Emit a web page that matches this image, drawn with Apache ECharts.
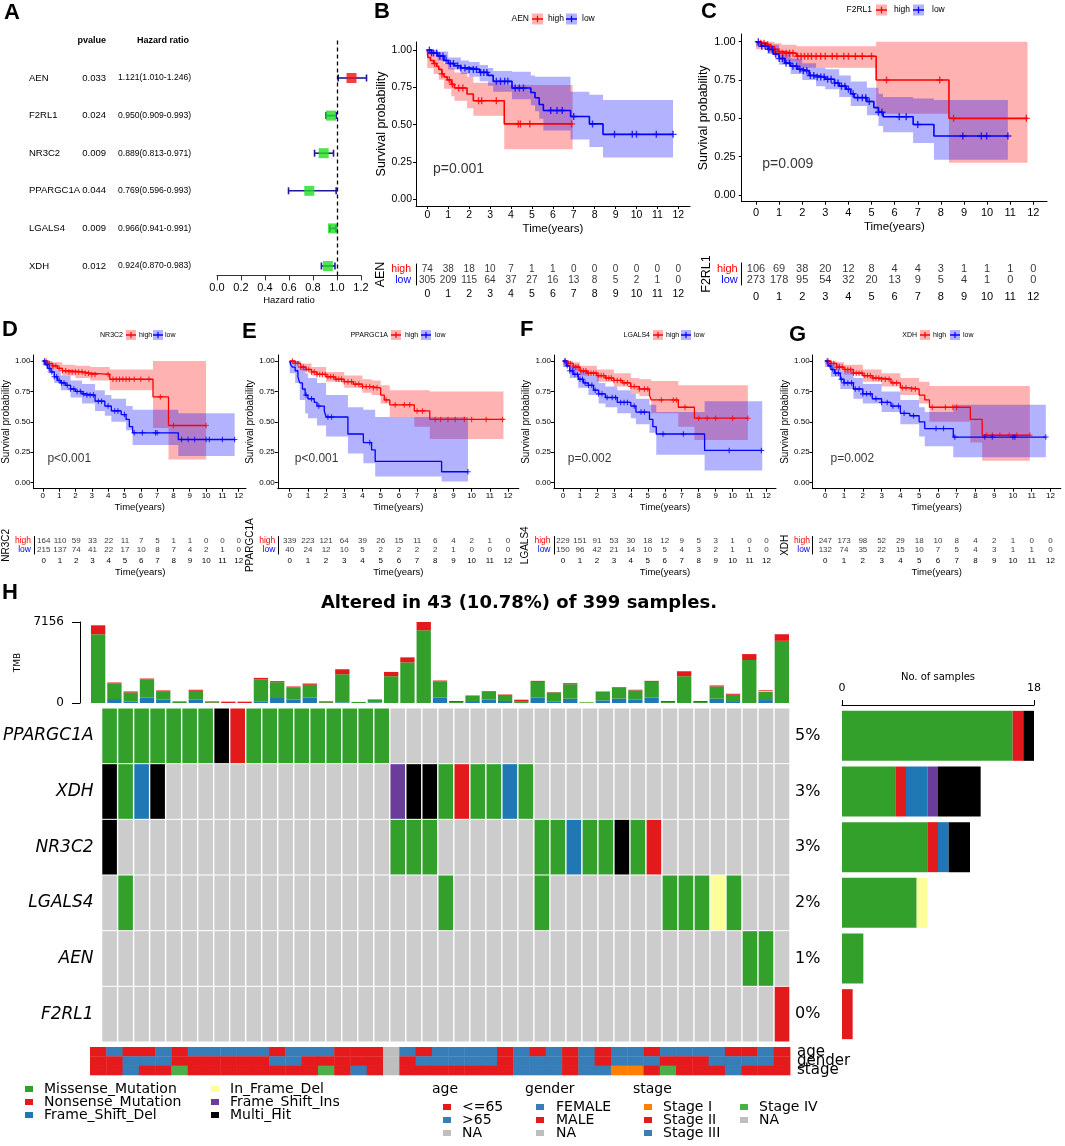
<!DOCTYPE html>
<html>
<head>
<meta charset="utf-8">
<title>Prognostic genes: Cox, KM and oncoplot</title>
<script src="https://cdn.jsdelivr.net/npm/echarts@6.0.0/dist/echarts.min.js"></script>
<style>
html, body { margin: 0; padding: 0; background: #fff; }
#main { width: 1065px; height: 1146px; }
</style>
</head>
<body>
<div id="main"></div>
<script>
// ---------------- A: univariate cox ----------------
var coxGenes = ['AEN', 'F2RL1', 'NR3C2', 'PPARGC1A', 'LGALS4', 'XDH'];
var coxP = ['0.033', '0.024', '0.009', '0.044', '0.009', '0.012'];
var coxHR = [1.121, 0.950, 0.889, 0.769, 0.966, 0.924];
var coxLow = [1.010, 0.909, 0.813, 0.596, 0.941, 0.870];
var coxHigh = [1.246, 0.993, 0.971, 0.993, 0.991, 0.983];

// ---------------- B-G: KM curves ----------------
// curves: [time, survival] from that time on; bands: [time, lower, upper]
var kmTimes = [0, 1, 2, 3, 4, 5, 6, 7, 8, 9, 10, 11, 12];
var kmPvals = ['p=0.001', 'p=0.009', 'p<0.001', 'p<0.001', 'p=0.002', 'p=0.002'];

// AEN
var aenHigh = [[0,1],[0.03,0.95],[0.15,0.93],[0.3,0.91],[0.45,0.89],[0.55,0.87],[0.7,0.84],[0.8,0.82],[0.95,0.8],[1.15,0.77],[1.3,0.745],[1.9,0.705],[2.2,0.66],[3.68,0.505],[6.95,0.505]];
var aenHighCensor = [0.35,0.7,1.05,1.2,1.5,1.7,2.45,2.6,3.3,4.35,4.45,4.9,6.9];
var aenHighBand = [[0,0.88,1],[0.3,0.84,0.97],[0.55,0.8,0.95],[0.8,0.74,0.91],[1.15,0.69,0.88],[1.3,0.66,0.85],[1.9,0.61,0.82],[2.2,0.56,0.78],[3.68,0.335,0.765],[6.95,0.335,0.765]];
var aenLow = [[0,1],[0.2,0.98],[0.5,0.96],[0.8,0.93],[1.0,0.91],[1.3,0.895],[1.6,0.88],[2.0,0.87],[2.5,0.85],[2.9,0.83],[3.15,0.79],[4.05,0.745],[4.95,0.715],[5.15,0.68],[5.35,0.635],[5.55,0.595],[6.85,0.555],[7.75,0.505],[8.4,0.435],[11.75,0.435]];
var aenLowCensor = [0.1,0.2,0.3,0.45,0.6,0.75,0.9,1.1,1.25,1.45,1.6,1.8,2.0,2.2,2.35,2.55,2.7,2.85,3.3,3.5,3.7,3.85,4.2,4.4,4.6,5.9,6.2,6.45,7.0,7.9,8.95,9.8,10.0,10.95,11.75];
var aenLowBand = [[0,0.97,1],[0.5,0.93,0.99],[1.0,0.87,0.95],[1.6,0.84,0.93],[2.0,0.82,0.92],[2.5,0.79,0.9],[2.9,0.76,0.88],[3.15,0.72,0.86],[4.05,0.67,0.855],[4.95,0.63,0.83],[5.15,0.59,0.82],[5.35,0.54,0.82],[5.55,0.46,0.82],[6.85,0.4,0.72],[7.75,0.35,0.7],[8.4,0.28,0.665],[11.75,0.28,0.665]];
var aenRiskHigh = [74,38,18,10,7,1,1,0,0,0,0,0,0];
var aenRiskLow = [305,209,115,64,37,27,16,13,8,5,2,1,0];

// F2RL1
var f2High = [[0,1],[0.15,0.99],[0.4,0.98],[0.6,0.965],[0.8,0.95],[0.95,0.935],[1.1,0.925],[1.75,0.905],[5.2,0.75],[8.35,0.5],[11.75,0.5]];
var f2HighCensor = [0.2,0.35,0.5,0.65,0.8,1.0,1.15,1.3,1.45,1.6,1.8,1.95,2.1,2.25,2.4,2.6,2.8,3.0,3.3,3.5,3.8,4.0,4.3,4.6,5.0,5.65,7.95,8.55,11.7];
var f2HighBand = [[0,0.95,1],[0.5,0.93,1],[0.8,0.9,0.99],[1.1,0.87,0.98],[1.75,0.83,0.97],[5.2,0.53,1],[8.35,0.21,1],[11.75,0.21,1]];
var f2Low = [[0,1],[0.2,0.97],[0.5,0.95],[0.75,0.92],[1.0,0.89],[1.25,0.86],[1.5,0.84],[1.8,0.82],[2.0,0.81],[2.3,0.78],[2.6,0.77],[3.0,0.755],[3.4,0.73],[3.6,0.71],[3.9,0.69],[4.1,0.66],[4.25,0.635],[4.8,0.61],[5.1,0.57],[5.3,0.54],[5.5,0.51],[6.8,0.46],[7.7,0.385],[10.9,0.385]];
var f2LowCensor = [0.1,0.25,0.4,0.55,0.7,0.85,1.0,1.15,1.3,1.45,1.6,1.75,1.9,2.05,2.2,2.35,2.5,2.65,2.8,2.95,3.1,3.25,3.4,3.55,3.7,3.85,4.0,4.2,4.4,4.6,4.75,4.9,5.3,5.45,6.2,6.5,7.0,8.95,9.75,9.98,10.9];
var f2LowBand = [[0,0.97,1],[0.5,0.92,0.98],[1.0,0.85,0.93],[1.5,0.79,0.89],[2.0,0.75,0.86],[2.6,0.71,0.83],[3.0,0.69,0.82],[3.6,0.64,0.78],[4.1,0.58,0.74],[4.8,0.52,0.7],[5.3,0.45,0.66],[5.5,0.41,0.64],[6.8,0.34,0.63],[7.7,0.23,0.62],[10.9,0.23,0.62]];
var f2RiskHigh = [106,69,38,20,12,8,4,4,3,1,1,1,0];
var f2RiskLow = [273,178,95,54,32,20,13,9,5,4,1,0,0];

// NR3C2
var nrHigh = [[0,1],[0.3,0.98],[0.6,0.96],[0.9,0.94],[1.2,0.92],[1.6,0.91],[2.5,0.9],[2.9,0.89],[4.1,0.85],[6.75,0.705],[7.7,0.47],[10,0.47]];
var nrHighCensor = [0.2,0.4,0.6,0.8,1.0,1.2,1.4,1.6,1.8,2.0,2.2,2.4,2.6,2.8,3.0,3.2,4.0,4.3,4.5,4.7,4.9,5.1,5.3,5.6,6.0,6.5,7.2,8.0,10.0];
var nrHighBand = [[0,0.96,1],[0.6,0.93,0.99],[1.2,0.88,0.97],[2.0,0.86,0.96],[2.9,0.84,0.95],[4.1,0.76,0.93],[6.75,0.45,1],[7.7,0.19,1],[10,0.19,1]];
var nrLow = [[0,1],[0.15,0.97],[0.3,0.94],[0.5,0.91],[0.7,0.87],[0.9,0.84],[1.1,0.82],[1.4,0.8],[1.7,0.77],[2.0,0.75],[2.4,0.73],[2.6,0.72],[3.2,0.67],[3.8,0.63],[4.2,0.59],[4.8,0.56],[5.1,0.52],[5.3,0.46],[5.5,0.41],[8.3,0.355],[11.75,0.355]];
var nrLowCensor = [0.1,0.25,0.4,0.55,0.7,0.85,1.0,1.15,1.3,1.5,1.7,1.9,2.1,2.3,2.5,2.7,2.9,3.1,3.4,3.6,4.0,4.4,4.6,5.0,5.6,6.1,6.9,7.0,8.5,8.9,9.3,10.0,10.2,11.0,11.75];
var nrLowBand = [[0,0.97,1],[0.3,0.9,0.98],[0.7,0.82,0.93],[1.1,0.76,0.88],[1.7,0.7,0.84],[2.4,0.65,0.81],[3.2,0.59,0.76],[3.8,0.55,0.72],[4.2,0.5,0.69],[5.1,0.43,0.63],[5.5,0.31,0.6],[8.3,0.22,0.57],[11.75,0.22,0.57]];
var nrRiskHigh = [164,110,59,33,22,11,7,5,1,1,0,0,0];
var nrRiskLow = [215,137,74,41,22,17,10,8,7,4,2,1,0];

// PPARGC1A
var ppHigh = [[0,1],[0.3,0.98],[0.6,0.95],[0.9,0.93],[1.2,0.91],[1.5,0.89],[2.0,0.87],[2.5,0.85],[3.0,0.83],[3.5,0.81],[4.0,0.79],[4.5,0.78],[5.0,0.72],[5.2,0.68],[5.5,0.64],[6.85,0.59],[7.7,0.52],[11.75,0.52]];
var ppHighCensor = [0.15,0.3,0.45,0.6,0.75,0.9,1.05,1.2,1.35,1.5,1.65,1.8,1.95,2.1,2.25,2.4,2.55,2.7,2.85,3.0,3.2,3.4,3.6,3.8,4.0,4.2,4.4,4.6,4.8,5.3,5.8,6.3,6.6,7.0,7.3,8.0,8.3,8.7,9.1,9.6,10.0,10.8,11.7];
var ppHighBand = [[0,0.98,1],[0.6,0.92,0.98],[1.2,0.88,0.95],[2.0,0.83,0.91],[3.0,0.78,0.88],[4.0,0.74,0.85],[4.5,0.72,0.84],[5.0,0.65,0.8],[5.5,0.54,0.76],[6.85,0.46,0.76],[7.7,0.36,0.75],[11.75,0.36,0.75]];
var ppLow = [[0,1],[0.05,0.97],[0.15,0.95],[0.3,0.92],[0.45,0.87],[0.55,0.82],[0.7,0.77],[0.85,0.72],[1.0,0.69],[1.35,0.66],[1.5,0.63],[1.9,0.59],[2.0,0.54],[3.2,0.4],[4.05,0.33],[4.5,0.27],[4.7,0.175],[8.35,0.09],[9.8,0.09]];
var ppLowCensor = [0.9,1.2,1.6,2.1,2.3,4.4,9.8];
var ppLowBand = [[0,0.9,1],[0.3,0.82,1],[0.55,0.68,0.96],[0.85,0.57,0.9],[1.0,0.53,0.86],[1.5,0.47,0.82],[2.0,0.38,0.72],[3.2,0.24,0.62],[4.05,0.16,0.6],[4.7,0.05,0.54],[8.35,0.01,0.54],[9.8,0.01,0.54]];
var ppRiskHigh = [339,223,121,64,39,26,15,11,6,4,2,1,0];
var ppRiskLow = [40,24,12,10,5,2,2,2,2,1,0,0,0];

// LGALS4
var lgHigh = [[0,1],[0.3,0.98],[0.6,0.95],[1.0,0.92],[1.4,0.9],[2.0,0.88],[2.5,0.86],[3.0,0.84],[3.5,0.82],[4.0,0.79],[4.5,0.77],[5.1,0.72],[5.2,0.68],[6.8,0.62],[7.75,0.53],[10.9,0.53]];
var lgHighCensor = [0.15,0.3,0.45,0.6,0.75,0.9,1.05,1.2,1.35,1.5,1.65,1.8,1.95,2.1,2.25,2.4,2.55,2.7,2.85,3.0,3.2,3.4,3.6,3.8,4.0,4.2,4.5,4.8,5.0,5.8,6.5,6.7,7.2,8.0,8.5,9.0,10.0,10.9];
var lgHighBand = [[0,0.97,1],[0.6,0.92,0.99],[1.0,0.88,0.96],[2.0,0.83,0.93],[3.0,0.79,0.9],[4.0,0.73,0.86],[4.5,0.71,0.85],[5.2,0.57,0.835],[6.8,0.46,0.8],[7.75,0.35,0.8],[10.9,0.35,0.8]];
var lgLow = [[0,1],[0.2,0.96],[0.4,0.92],[0.6,0.89],[0.9,0.85],[1.2,0.82],[1.5,0.8],[1.8,0.76],[2.1,0.73],[2.5,0.7],[3.2,0.66],[4.0,0.63],[4.3,0.58],[5.1,0.52],[5.3,0.46],[5.5,0.4],[8.35,0.265],[11.75,0.265]];
var lgLowCensor = [0.1,0.25,0.4,0.55,0.7,0.85,1.0,1.15,1.3,1.5,1.7,1.9,2.1,2.3,2.6,2.9,3.1,3.4,3.6,3.8,4.2,4.6,4.8,5.9,7.1,9.8,11.7];
var lgLowBand = [[0,0.95,1],[0.4,0.86,0.97],[0.9,0.78,0.92],[1.5,0.72,0.88],[2.1,0.65,0.82],[2.5,0.62,0.79],[3.2,0.57,0.76],[4.0,0.53,0.73],[4.3,0.48,0.69],[5.1,0.41,0.64],[5.5,0.23,0.58],[8.35,0.1,0.67],[11.75,0.1,0.67]];
var lgRiskHigh = [229,151,91,53,30,18,12,9,5,3,1,0,0];
var lgRiskLow = [150,96,42,21,14,10,5,4,3,2,1,1,0];

// XDH
var xdHigh = [[0,1],[0.3,0.98],[0.6,0.95],[1.0,0.93],[1.5,0.9],[2.0,0.88],[2.5,0.86],[3.0,0.85],[3.5,0.82],[4.0,0.78],[4.5,0.77],[5.0,0.72],[5.3,0.68],[5.55,0.62],[7.73,0.52],[8.36,0.39],[10.9,0.39]];
var xdHighCensor = [0.15,0.3,0.45,0.6,0.75,0.9,1.05,1.2,1.35,1.5,1.65,1.8,1.95,2.1,2.25,2.4,2.55,2.7,2.85,3.0,3.2,3.4,3.6,3.8,4.1,4.3,4.6,4.8,5.7,6.4,6.8,7.0,8.6,8.9,9.3,9.8,10.2,10.9];
var xdHighBand = [[0,0.97,1],[0.6,0.92,0.99],[1.0,0.89,0.97],[2.0,0.83,0.93],[3.0,0.79,0.9],[4.0,0.72,0.86],[5.0,0.65,0.83],[5.55,0.5,0.795],[7.73,0.33,0.795],[8.36,0.18,0.795],[10.9,0.18,0.795]];
var xdLow = [[0,1],[0.15,0.96],[0.3,0.93],[0.5,0.9],[0.8,0.85],[1.0,0.82],[1.5,0.77],[2.0,0.73],[2.5,0.69],[3.0,0.66],[3.5,0.63],[4.0,0.57],[4.5,0.55],[5.0,0.5],[5.3,0.445],[6.82,0.375],[11.75,0.375]];
var xdLowCensor = [0.1,0.25,0.4,0.55,0.7,0.85,1.0,1.2,1.4,1.6,1.8,2.0,2.2,2.4,2.7,3.0,3.3,3.6,3.9,4.2,4.7,5.9,6.3,6.9,8.5,8.9,10.0,10.1,11.75];
var xdLowBand = [[0,0.95,1],[0.3,0.87,0.98],[0.8,0.77,0.92],[1.5,0.69,0.86],[2.0,0.65,0.81],[3.0,0.58,0.75],[4.0,0.48,0.68],[5.0,0.38,0.62],[5.3,0.3,0.58],[6.82,0.21,0.64],[11.75,0.21,0.64]];
var xdRiskHigh = [247,173,98,52,29,18,10,8,4,2,1,0,0];
var xdRiskLow = [132,74,35,22,15,10,7,5,4,3,1,1,0];

// ---------------- H: oncoplot ----------------
var oncoGenes = ['PPARGC1A', 'XDH', 'NR3C2', 'LGALS4', 'AEN', 'F2RL1'];
var oncoPct = ['5%', '3%', '3%', '2%', '1%', '0%'];
// one char per sample: M missense, N nonsense, D frame-shift del, I frame-shift ins, F in-frame del, X multi hit
var oncoPPARGC1A = ['MMMMMMMXNM', 'MMMMMMMM..', '..........', '..........', '...'].join('');
var oncoXDH      = ['XMDX......', '........IX', 'XMNMMDM...', '..........', '...'].join('');
var oncoNR3C2    = ['X.........', '........MM', 'M......MMD', 'MMXMN.....', '...'].join('');
var oncoLGALS4   = ['.M........', '..........', '.M.....M..', '.....MMMFM', '...'].join('');
var oncoAEN      = ['..........', '..........', '..........', '..........', 'MM.'].join('');
var oncoF2RL1    = ['..........', '..........', '..........', '..........', '..N'].join('');
// clinical tracks: age R <=65, B >65; gender F / M; stage 1-4; N = NA
var annoAge    = ['RBRRBRBBBB', 'BRBBBRRRNB', 'RBBBBRBRBR', 'BRBBRBBBBR', 'RBR'].join('');
var annoGender = ['MMFFFMMMMM', 'MFFMMMMMNM', 'FFFFFMFFFM', 'FMFFFMMMFF', 'FFM'].join('');
var annoStage  = ['2232242222', '22224232N2', '2222223332', '3311242223', '222'].join('');
// TMB per sample, split by variant class
var tmbDel = [0,350,140,470,290,0,320,0,0,0,150,440,320,470,0,60,0,50,0,0,0,466,0,170,290,180,0,467,145,380,0,230,390,290,467,0,0,0,380,168,0,260,0];
var tmbMis = [6075,1370,790,1600,760,90,760,70,0,0,1920,1400,1050,1140,76,2480,100,230,2365,3590,6426,1430,85,470,700,530,170,1400,790,1280,70,760,950,820,1400,85,2364,85,1080,560,3797,760,5491];
var tmbIfd = [0,0,0,0,0,0,0,0,0,0,0,0,0,0,0,0,46,0,0,0,0,0,0,0,0,0,0,0,0,0,76,0,0,0,0,0,0,0,0,0,0,60,0];
var tmbNon = [790,90,90,90,60,50,90,70,120,120,150,90,90,110,70,440,0,40,380,440,730,90,90,30,60,40,120,90,30,90,0,30,60,60,90,90,440,90,90,90,525,60,584];
var tmbMax = 7156;
// samples per gene by class (right bar)
var cntMissense = [16, 5, 8, 7, 2, 0];
var cntNonsense = [1, 1, 1, 0, 0, 1];
var cntFsDel = [0, 2, 1, 0, 0, 0];
var cntFsIns = [0, 1, 0, 0, 0, 0];
var cntIfDel = [0, 0, 0, 1, 0, 0];
var cntMulti = [1, 4, 2, 0, 0, 0];
var cntMax = 18;

var mutNames = ['Missense_Mutation', 'Nonsense_Mutation', 'Frame_Shift_Del', 'In_Frame_Del', 'Frame_Shift_Ins', 'Multi_Hit'];
var mutCodes = ['M', 'N', 'D', 'F', 'I', 'X'];
var mutColors = ['#33A02C', '#E31A1C', '#1F78B4', '#FFFF99', '#6A3D9A', '#000000'];

var FN = "'Liberation Sans',Arial,sans-serif";
var FA = FN;
var FD = "'DejaVu Sans',sans-serif";
var RED = '#FF0000', BLUE = '#0000FF';
var RED_BAND = 'rgba(255,0,0,0.3)', BLUE_BAND = 'rgba(0,0,255,0.3)';
var PLUS = 'path://M4,0H6V4H10V6H6V10H4V6H0V4H4Z';

var chart = echarts.init(document.getElementById('main'));
var grid = [], xAxis = [], yAxis = [], series = [], graphic = [];
function push(arr, o) { arr.push(o); return arr.length - 1; }

function txt(x, y, s, fs, fam, extra) {
  return { type: 'text', x: x, y: y, silent: true,
    style: Object.assign({ text: s, fill: '#000', fontSize: fs, fontFamily: fam, verticalAlign: 'middle' }, extra || {}) };
}

// ---------- A ----------
var fg = push(grid, { left: 217, top: 40.4, width: 144, height: 235 });
var fx = push(xAxis, { gridIndex: fg, type: 'value', min: 0, max: 1.2, interval: 0.2,
  name: 'Hazard ratio', nameLocation: 'middle', nameGap: 20,
  nameTextStyle: { fontFamily: FN, fontSize: 9.5, color: '#000' },
  axisLine: { onZero: false, lineStyle: { color: '#333', width: 1 } },
  axisTick: { length: 5, lineStyle: { color: '#333' } },
  axisLabel: { fontFamily: FN, fontSize: 11, color: '#000', margin: 7, formatter: function (v) { return v.toFixed(1); } },
  splitLine: { show: false } });
var fy = push(yAxis, { gridIndex: fg, type: 'value', min: -1, max: 5.25, inverse: true, show: false });
function rowOf(v) { var i = Math.round(v); return Math.abs(v - i) < 1e-6 ? i : null; }
function tableAxis(offset, align, fs, fmt) {
  return { gridIndex: fg, type: 'value', min: -1, max: 5.25, interval: 1, inverse: true, position: 'left', offset: offset,
    axisLine: { show: false }, axisTick: { show: false }, splitLine: { show: false },
    axisLabel: { margin: 0, align: align, fontFamily: FN, fontSize: fs, color: '#000', formatter: fmt, showMaxLabel: false,
      rich: { b: { fontFamily: FN, fontSize: 9, fontWeight: 'bold', color: '#000' } } } };
}
push(yAxis, tableAxis(188, 'left', 9.5, function (v) { var i = rowOf(v); return (i !== null && i >= 0) ? coxGenes[i] : ''; }));
push(yAxis, tableAxis(111, 'right', 9.5, function (v) {
  var i = rowOf(v); if (i === -1) return '{b|pvalue}'; return (i !== null && i >= 0) ? coxP[i] : ''; }));
push(yAxis, tableAxis(28, 'right', 9, function (v) { return rowOf(v) === -1 ? '{b|Hazard ratio}' : ''; }));
push(yAxis, tableAxis(99, 'left', 8.6, function (v) {
  var i = rowOf(v);
  if (i === null || i < 0 || i >= coxHR.length) return '';
  return coxHR[i].toFixed(3) + '(' + coxLow[i].toFixed(3) + '-' + coxHigh[i].toFixed(3) + ')'; }));
series.push({ type: 'custom', xAxisIndex: fx, yAxisIndex: fy, silent: true, z: 3,
  data: coxGenes.map(function (g, i) { return [i, coxLow[i], coxHigh[i]]; }),
  encode: { x: [1, 2], y: 0 },
  renderItem: function (params, api) {
    var y = api.value(0), a = api.coord([api.value(1), y]), b = api.coord([api.value(2), y]);
    var st = { stroke: '#1A1A9A', lineWidth: 1.6 };
    return { type: 'group', children: [
      { type: 'line', shape: { x1: a[0], y1: a[1], x2: b[0], y2: b[1] }, style: st },
      { type: 'line', shape: { x1: a[0], y1: a[1] - 3.5, x2: a[0], y2: a[1] + 3.5 }, style: st },
      { type: 'line', shape: { x1: b[0], y1: b[1] - 3.5, x2: b[0], y2: b[1] + 3.5 }, style: st }] };
  } });
series.push({ type: 'scatter', xAxisIndex: fx, yAxisIndex: fy, silent: true, z: 4, symbol: 'rect', symbolSize: 10,
  data: coxHR.map(function (h, i) { return [h, i]; }),
  itemStyle: { color: function (p) { return p.value[0] > 1 ? '#EE1111' : '#22DD22'; } },
  markLine: { silent: true, symbol: 'none', label: { show: false }, animation: false,
    lineStyle: { color: '#000', type: [4, 3], width: 1.3 }, data: [{ xAxis: 1 }] } });

// ---------- B-G ----------
function survAt(curve, t) {
  var s = curve[0][1];
  for (var i = 0; i < curve.length; i++) { if (curve[i][0] <= t + 1e-9) s = curve[i][1]; }
  return s;
}
function bandSeries(band, color, xi, yi) {
  return { type: 'custom', xAxisIndex: xi, yAxisIndex: yi, silent: true, z: 1, data: band, encode: { x: 0, y: [1, 2] },
    renderItem: function (params, api) {
      if (params.dataIndex !== 0) return null;
      var up = [], lo = [];
      for (var i = 0; i < band.length; i++) {
        var t0 = band[i][0], t1 = i + 1 < band.length ? band[i + 1][0] : band[i][0];
        up.push(api.coord([t0, band[i][2]]), api.coord([t1, band[i][2]]));
        lo.push(api.coord([t0, band[i][1]]), api.coord([t1, band[i][1]]));
      }
      return { type: 'polygon', shape: { points: up.concat(lo.reverse()) }, style: { fill: color } };
    } };
}
var SURV_TICKS = [0, 0.25, 0.5, 0.75, 1];

var kmBig = { tickFs: 10.5, tickMargin: 4, nameFs: 11.5, yNameFs: 12.5, pFs: 14, riskFs: 10, riskLabFs: 10.5,
  lw: 1.6, cs: 7, legFs: 8.5, legBox: 11, riskTime: false };
var kmSmall = { top: 355, bottom: 488.7, y1: 361, y0: 482.7, riskTop: 536.5, riskBottom: 554, riskTime: true, riskNameY: 571.7,
  tickFs: 8, tickMargin: 3, nameFs: 9.5, xNameY: 506.7, yNameFs: 10, pFs: 12, riskFs: 8, riskLabFs: 8.5,
  lw: 1.3, cs: 5.5, legY: 335, legFs: 7, legBox: 10 };
var kmPanels = [
  { L: Object.assign({}, kmBig, { left: 416, right: 690, top: 42, bottom: 206, t0: 427.3, t12: 678.3, y1: 50, y0: 199.3,
      riskTop: 264, riskBottom: 285, xNameY: 229, yNameX: 387, riskNameX: 386, riskMargin: 5, legY: 19, legX: [529, 532, 548, 566, 582] }),
    gene: 'AEN', high: aenHigh, low: aenLow, hc: aenHighCensor, lc: aenLowCensor, hb: aenHighBand, lb: aenLowBand, rh: aenRiskHigh, rl: aenRiskLow, p: kmPvals[0] },
  { L: Object.assign({}, kmBig, { left: 741.7, right: 1047, top: 34, bottom: 201.7, t0: 756, t12: 1033.3, y1: 41.7, y0: 195,
      riskTop: 263, riskBottom: 285, tickFs: 11, tickMargin: 6, riskFs: 11, riskLabFs: 11, xNameY: 227, yNameX: 709, riskNameX: 710, riskMargin: 4,
      legY: 10, legX: [872, 876, 894, 913, 932] }),
    gene: 'F2RL1', high: f2High, low: f2Low, hc: f2HighCensor, lc: f2LowCensor, hb: f2HighBand, lb: f2LowBand, rh: f2RiskHigh, rl: f2RiskLow, p: kmPvals[1] },
  { L: Object.assign({}, kmSmall, { left: 29.7, right: 246, t0: 39.2, t12: 238.6, yNameX: 7, riskNameX: 7.5, riskMargin: 3.5,
      legX: [123, 126, 139, 153, 165] }),
    gene: 'NR3C2', high: nrHigh, low: nrLow, hc: nrHighCensor, lc: nrLowCensor, hb: nrHighBand, lb: nrLowBand, rh: nrRiskHigh, rl: nrRiskLow, p: kmPvals[2] },
  { L: Object.assign({}, kmSmall, { left: 277.8, right: 518.8, t0: 289.7, t12: 508, yNameX: 254, riskNameX: 254, riskMargin: 2.5,
      legX: [388, 391, 405, 421, 435] }),
    gene: 'PPARGC1A', high: ppHigh, low: ppLow, hc: ppHighCensor, lc: ppLowCensor, hb: ppHighBand, lb: ppLowBand, rh: ppRiskHigh, rl: ppRiskLow, p: kmPvals[3] },
  { L: Object.assign({}, kmSmall, { left: 554, right: 776, t0: 563, t12: 766.5, yNameX: 535, riskNameX: 536, riskMargin: 3.5,
      legX: [650, 653, 666, 681, 694] }),
    gene: 'LGALS4', high: lgHigh, low: lgLow, hc: lgHighCensor, lc: lgLowCensor, hb: lgHighBand, lb: lgLowBand, rh: lgRiskHigh, rl: lgRiskLow, p: kmPvals[4] },
  { L: Object.assign({}, kmSmall, { left: 812.6, right: 1060.8, t0: 825.3, t12: 1050.5, yNameX: 788.5, riskNameX: 788.5, riskMargin: 2.6,
      legX: [917, 920, 933, 950, 963] }),
    gene: 'XDH', high: xdHigh, low: xdLow, hc: xdHighCensor, lc: xdLowCensor, hb: xdHighBand, lb: xdLowBand, rh: xdRiskHigh, rl: xdRiskLow, p: kmPvals[5] }
];

function legendKey(x, y, b, fill, stroke) {
  graphic.push({ type: 'rect', silent: true, shape: { x: x, y: y - b / 2, width: b, height: b }, style: { fill: fill } });
  graphic.push({ type: 'line', silent: true, shape: { x1: x, y1: y, x2: x + b, y2: y }, style: { stroke: stroke, lineWidth: 1.5 } });
  graphic.push({ type: 'line', silent: true, shape: { x1: x + b / 2, y1: y - b * 0.3, x2: x + b / 2, y2: y + b * 0.3 }, style: { stroke: stroke, lineWidth: 1.2 } });
}

function kmPanel(d) {
  var L = d.L;
  var pxYr = (L.t12 - L.t0) / 12, pxS = L.y0 - L.y1;
  var xMin = (L.left - L.t0) / pxYr, xMax = (L.right - L.t0) / pxYr;
  var yMin = (L.y0 - L.bottom) / pxS, yMax = 1 + (L.y1 - L.top) / pxS;
  var lineSt = { onZero: false, lineStyle: { color: '#000', width: 1 } };
  var tickSt = { color: '#000', width: 1 };
  var g = push(grid, { left: L.left, top: L.top, width: L.right - L.left, height: L.bottom - L.top });
  var xi = push(xAxis, { gridIndex: g, type: 'value', min: xMin, max: xMax,
    name: 'Time(years)', nameLocation: 'middle', nameGap: L.xNameY - L.nameFs / 2 - L.bottom,
    nameTextStyle: { fontFamily: FN, fontSize: L.nameFs, color: '#000' },
    axisLine: lineSt, axisTick: { customValues: kmTimes, length: 3, lineStyle: tickSt },
    axisLabel: { customValues: kmTimes, fontFamily: FN, fontSize: L.tickFs, color: '#000', margin: L.tickMargin },
    splitLine: { show: false } });
  var yi = push(yAxis, { gridIndex: g, type: 'value', min: yMin, max: yMax,
    name: 'Survival probability', nameLocation: 'middle', nameRotate: 90, nameGap: L.left - L.yNameX - L.yNameFs / 2,
    nameTextStyle: { fontFamily: FA, fontSize: L.yNameFs, color: '#000' },
    axisLine: lineSt, axisTick: { customValues: SURV_TICKS, length: 3, lineStyle: tickSt },
    axisLabel: { customValues: SURV_TICKS, fontFamily: FN, fontSize: L.tickFs, color: '#000', margin: L.tickMargin,
      formatter: function (v) { return v.toFixed(2); } },
    splitLine: { show: false } });
  series.push(bandSeries(d.hb, RED_BAND, xi, yi), bandSeries(d.lb, BLUE_BAND, xi, yi));
  [[d.high, d.hc, RED], [d.low, d.lc, BLUE]].forEach(function (c) {
    series.push({ type: 'line', xAxisIndex: xi, yAxisIndex: yi, step: 'end', data: c[0], symbol: 'none', silent: true, z: 3,
      lineStyle: { color: c[2], width: L.lw } });
    series.push({ type: 'scatter', xAxisIndex: xi, yAxisIndex: yi, silent: true, z: 4, symbol: PLUS, symbolSize: L.cs,
      itemStyle: { color: c[2] }, data: c[1].map(function (t) { return [t, survAt(c[0], t)]; }) });
  });
  series.push({ type: 'scatter', xAxisIndex: xi, yAxisIndex: yi, silent: true, symbolSize: 1, itemStyle: { color: 'transparent' },
    data: [[0.25, 0.2]],
    label: { show: true, position: 'right', distance: 0, formatter: d.p, fontFamily: FN, fontSize: L.pFs, color: '#000' } });

  // number at risk
  var rg = push(grid, { left: L.left, top: L.riskTop, width: L.right - L.left, height: L.riskBottom - L.riskTop });
  var rx = push(xAxis, { gridIndex: rg, type: 'value', min: xMin, max: xMax,
    name: L.riskTime ? 'Time(years)' : '', nameLocation: 'middle', nameGap: L.riskTime ? L.riskNameY - L.nameFs / 2 - L.riskBottom : 0,
    nameTextStyle: { fontFamily: FN, fontSize: L.nameFs, color: '#000' },
    axisLine: lineSt, axisTick: { customValues: kmTimes, length: 3, lineStyle: tickSt },
    axisLabel: { customValues: kmTimes, fontFamily: FN, fontSize: L.tickFs, color: '#000', margin: L.tickMargin },
    splitLine: { show: false } });
  var ry = push(yAxis, { gridIndex: rg, type: 'category', data: ['low', 'high'],
    name: d.gene, nameLocation: 'middle', nameRotate: 90, nameGap: L.left - L.riskNameX - L.yNameFs / 2,
    nameTextStyle: { fontFamily: FA, fontSize: L.yNameFs, color: '#000' },
    axisLine: { onZero: false, lineStyle: tickSt }, axisTick: { alignWithLabel: true, interval: 0, length: 3, lineStyle: tickSt },
    axisLabel: { interval: 0, fontFamily: FN, fontSize: L.riskLabFs, margin: L.riskMargin,
      color: function (v) { return v === 'high' ? RED : BLUE; } },
    splitLine: { show: false } });
  var rows = kmTimes.map(function (t, i) { return [t, 1, d.rh[i]]; })
    .concat(kmTimes.map(function (t, i) { return [t, 0, d.rl[i]]; }));
  series.push({ type: 'scatter', xAxisIndex: rx, yAxisIndex: ry, silent: true, symbolSize: 1, itemStyle: { color: 'transparent' },
    data: rows,
    label: { show: true, position: 'inside', formatter: function (p) { return p.value[2]; },
      fontFamily: FN, fontSize: L.riskFs, color: '#000' } });

  // legend
  graphic.push(txt(L.legX[0], L.legY, d.gene, L.legFs, FN, { align: 'right' }));
  legendKey(L.legX[1], L.legY, L.legBox, RED_BAND, RED);
  graphic.push(txt(L.legX[2], L.legY, 'high', L.legFs, FN));
  legendKey(L.legX[3], L.legY, L.legBox, BLUE_BAND, BLUE);
  graphic.push(txt(L.legX[4], L.legY, 'low', L.legFs, FN));
}
kmPanels.forEach(kmPanel);

// ---------- H ----------
var oncoRows = [oncoPPARGC1A, oncoXDH, oncoNR3C2, oncoLGALS4, oncoAEN, oncoF2RL1];
var samples = oncoPPARGC1A.split('').map(function (c, i) { return 'S' + (i + 1); });
var annoRows = [annoAge, annoGender, annoStage];
var annoColors = [
  { R: '#E41A1C', B: '#377EB8', N: '#BEBEBE' },
  { F: '#377EB8', M: '#E41A1C', N: '#BEBEBE' },
  { '1': '#FF7F00', '2': '#E41A1C', '3': '#377EB8', '4': '#4DAF4A', N: '#BEBEBE' }
];

var tg = push(grid, { left: 90, top: 622, width: 700, height: 81 });
var tx = push(xAxis, { gridIndex: tg, type: 'category', data: samples, show: false });
var ty = push(yAxis, { gridIndex: tg, type: 'value', min: 0, max: tmbMax, interval: tmbMax, offset: 10,
  name: 'TMB', nameLocation: 'middle', nameRotate: 90, nameGap: 28,
  nameTextStyle: { fontFamily: FD, fontSize: 9, color: '#000' },
  axisLine: { show: true, lineStyle: { color: '#000' } }, axisTick: { show: true, length: 8, lineStyle: { color: '#000' } },
  axisLabel: { fontFamily: FD, fontSize: 12, color: '#000', margin: 16, formatter: function (v) { return String(v); } },
  splitLine: { show: false } });
[[tmbDel, mutColors[2]], [tmbMis, mutColors[0]], [tmbIfd, mutColors[3]], [tmbNon, mutColors[1]]].forEach(function (s) {
  series.push({ type: 'bar', xAxisIndex: tx, yAxisIndex: ty, stack: 'tmb', data: s[0], barCategoryGap: '12%', silent: true,
    itemStyle: { color: s[1] } });
});

var mg = push(grid, { left: 90, top: 708, width: 700, height: 334 });
var mx = push(xAxis, { gridIndex: mg, type: 'category', data: samples, show: false });
var my = push(yAxis, { gridIndex: mg, type: 'category', data: oncoGenes, inverse: true,
  axisLine: { show: false }, axisTick: { show: false },
  axisLabel: { interval: 0, fontFamily: FD, fontStyle: 'italic', fontSize: 17, color: '#000', margin: 8 } });
push(yAxis, { gridIndex: mg, type: 'category', data: oncoGenes, inverse: true, position: 'right',
  axisLine: { show: false }, axisTick: { show: false },
  axisLabel: { interval: 0, fontFamily: FD, fontSize: 16, color: '#000', margin: 5, formatter: function (v, i) { return oncoPct[i]; } } });
var cells = [];
oncoRows.forEach(function (row, j) { for (var i = 0; i < row.length; i++) cells.push([i, j]); });
series.push({ type: 'custom', xAxisIndex: mx, yAxisIndex: my, silent: true, data: cells,
  renderItem: function (params, api) {
    var i = api.value(0), j = api.value(1), c = api.coord([i, j]), s = api.size([1, 1]);
    var k = mutCodes.indexOf(oncoRows[j].charAt(i));
    return { type: 'rect', shape: { x: c[0] - s[0] / 2 + 0.7, y: c[1] - s[1] / 2 + 0.5, width: s[0] - 1.4, height: s[1] - 1 },
      style: { fill: k < 0 ? '#CCCCCC' : mutColors[k] } };
  } });

var ag = push(grid, { left: 90, top: 1047, width: 700, height: 28 });
var ax = push(xAxis, { gridIndex: ag, type: 'category', data: samples, show: false });
var ay = push(yAxis, { gridIndex: ag, type: 'category', data: ['age', 'gender', 'stage'], inverse: true, position: 'right',
  axisLine: { show: false }, axisTick: { show: false },
  axisLabel: { interval: 0, fontFamily: FD, fontSize: 15, color: '#000', margin: 7 } });
var acells = [];
annoRows.forEach(function (row, r) { for (var i = 0; i < row.length; i++) acells.push([i, r]); });
series.push({ type: 'custom', xAxisIndex: ax, yAxisIndex: ay, silent: true, data: acells,
  renderItem: function (params, api) {
    var i = api.value(0), r = api.value(1), c = api.coord([i, r]), s = api.size([1, 1]);
    return { type: 'rect', shape: { x: c[0] - s[0] / 2, y: c[1] - s[1] / 2, width: s[0] + 0.4, height: s[1] + 0.3 },
      style: { fill: annoColors[r][annoRows[r].charAt(i)] } };
  } });

var bg = push(grid, { left: 842, top: 708, width: 192, height: 334 });
var bx = push(xAxis, { gridIndex: bg, type: 'value', min: 0, max: cntMax, interval: cntMax, position: 'top', offset: 3,
  name: 'No. of samples', nameLocation: 'middle', nameGap: 2,
  nameTextStyle: { fontFamily: FD, fontSize: 10, color: '#000' },
  axisLine: { show: true, lineStyle: { color: '#000', width: 1.2 } }, axisTick: { show: true, length: 5, lineStyle: { color: '#000' } },
  axisLabel: { fontFamily: FD, fontSize: 11, color: '#000', margin: 11 }, splitLine: { show: false } });
var by = push(yAxis, { gridIndex: bg, type: 'category', data: oncoGenes, inverse: true, show: false });
[cntMissense, cntNonsense, cntFsDel, cntFsIns, cntIfDel, cntMulti].forEach(function (arr, k) {
  var ci = [0, 1, 2, 4, 3, 5][k];
  series.push({ type: 'bar', xAxisIndex: bx, yAxisIndex: by, stack: 'cnt', data: arr, barWidth: 50, silent: true,
    itemStyle: { color: mutColors[ci] } });
});

// legends
var legRows = [1089, 1102, 1115];
[[0, 0], [1, 1], [2, 2]].forEach(function (p) {
  graphic.push({ type: 'rect', silent: true, shape: { x: 25, y: legRows[p[1]] - 3, width: 8, height: 6 }, style: { fill: mutColors[p[0]] } });
  graphic.push(txt(44, legRows[p[1]], mutNames[p[0]], 14, FD));
});
[[3, 0], [4, 1], [5, 2]].forEach(function (p) {
  graphic.push({ type: 'rect', silent: true, shape: { x: 211, y: legRows[p[1]] - 3, width: 8, height: 6 }, style: { fill: mutColors[p[0]] } });
  graphic.push(txt(230, legRows[p[1]], mutNames[p[0]], 14, FD));
});
var annoLeg = [
  { title: 'age', tx: 432, items: [['<=65', '#E41A1C'], ['>65', '#377EB8'], ['NA', '#BEBEBE']], sx: 443, lx: 462 },
  { title: 'gender', tx: 525, items: [['FEMALE', '#377EB8'], ['MALE', '#E41A1C'], ['NA', '#BEBEBE']], sx: 536, lx: 556 },
  { title: 'stage', tx: 633, items: [['Stage I', '#FF7F00'], ['Stage II', '#E41A1C'], ['Stage III', '#377EB8']], sx: 644, lx: 663 },
  { title: '', tx: 0, items: [['Stage IV', '#4DAF4A'], ['NA', '#BEBEBE']], sx: 740, lx: 759 }
];
var annoLegRows = [1107, 1120, 1133];
annoLeg.forEach(function (g) {
  if (g.title) graphic.push(txt(g.tx, 1089, g.title, 14, FD));
  g.items.forEach(function (it, r) {
    graphic.push({ type: 'rect', silent: true, shape: { x: g.sx, y: annoLegRows[r] - 3, width: 8, height: 6 }, style: { fill: it[1] } });
    graphic.push(txt(g.lx, annoLegRows[r], it[0], 14, FD));
  });
});

graphic.push(txt(519, 603, 'Altered in 43 (10.78%) of 399 samples.', 18, FD, { align: 'center', fontWeight: 'bold' }));
[['A', 4, 13], ['B', 374, 12], ['C', 701, 12], ['D', 2, 330], ['E', 242, 332], ['F', 520, 330], ['G', 789, 335], ['H', 2, 593]]
  .forEach(function (l) { graphic.push(txt(l[1], l[2], l[0], 22, FA, { fontWeight: 'bold' })); });

chart.setOption({
  animation: false,
  backgroundColor: '#fff',
  textStyle: { fontFamily: FN },
  grid: grid, xAxis: xAxis, yAxis: yAxis, series: series,
  graphic: { elements: graphic }
});
</script>
</body>
</html>
